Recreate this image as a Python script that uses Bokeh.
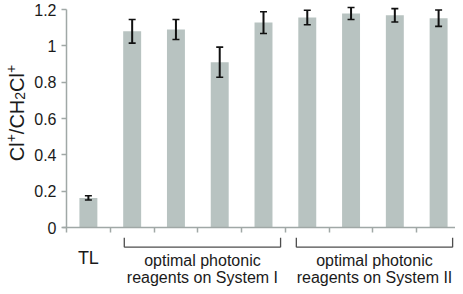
import math
from bokeh.plotting import figure
from bokeh.models import Range1d, FixedTicker, ColumnDataSource, Whisker, TeeHead, LinearAxis
from bokeh.core.properties import value
from bokeh.embed import file_html
from bokeh.resources import INLINE

# ---- data ----
category_labels = ["TL", "", "", "", "", "", "", "", ""]
values = [0.163, 1.080, 1.090, 0.910, 1.128, 1.156, 1.178, 1.168, 1.152]
errors = [0.012, 0.065, 0.055, 0.083, 0.060, 0.040, 0.033, 0.037, 0.045]
group_labels = ["optimal photonic\nreagents on System I", "optimal photonic\nreagents on System II"]
group_start = [1.32, 5.25]
group_end = [4.89, 8.82]
y_ticks = [0, 0.2, 0.4, 0.6, 0.8, 1.0, 1.2]
y_tick_labels = ["0", "0.2", "0.4", "0.6", "0.8", "1", "1.2"]
# y-axis title pieces: (text, shift)  shift: +1 superscript, -1 subscript
title_parts = [("Cl", 0), ("+", 1), ("/CH", 0), ("2", -1), ("Cl", 0), ("+", 1)]

FONT = "Liberation Sans"
BAR = "#b8c3c1"
AXIS = "#a0a8a6"
TXT = "#1a1a1a"

W, H = 455, 286
LEFT = 66          # frame x of the value axis
ZERO = 227         # screen y of value 0
PX = 218 / 1.2     # px per value unit
n = len(values)
XPX = 394 / n      # px per category

xs = [i + 0.5 for i in range(n)]
src = ColumnDataSource(dict(
    x=xs, top=values,
    lower=[v - e for v, e in zip(values, errors)],
    upper=[v + e for v, e in zip(values, errors)],
))

p = figure(width=W, height=H, output_backend="svg", toolbar_location=None,
           x_range=Range1d(-LEFT / XPX, (W - LEFT) / XPX),
           y_range=Range1d(-(H - ZERO) / PX, ZERO / PX),
           min_border=0, x_axis_location=None, y_axis_location=None)
p.outline_line_color = None
p.grid.grid_line_color = None
p.background_fill_color = "white"
p.border_fill_color = "white"

p.vbar(x="x", top="top", width=0.41, bottom=0, source=src, fill_color=BAR, line_color=None)

w = Whisker(base="x", lower="lower", upper="upper", source=src, line_color="#111111", line_width=2,
            upper_head=TeeHead(size=7, line_color="#111111", line_width=1.6),
            lower_head=TeeHead(size=7, line_color="#111111", line_width=1.6))
w.level = "overlay"
p.add_layout(w)

# value axis at x = 0
yax = LinearAxis(fixed_location=0, bounds=(0, 1.2), ticker=FixedTicker(ticks=y_ticks))
yax.major_label_overrides = {t: l for t, l in zip(y_ticks, y_tick_labels)}
yax.axis_line_color = AXIS
yax.axis_line_width = 1.5
yax.major_tick_line_color = AXIS
yax.major_tick_line_width = 1.5
yax.major_tick_out = 5
yax.major_tick_in = 0
yax.minor_tick_line_color = None
yax.major_label_text_font = FONT
yax.major_label_text_font_size = "16px"
yax.major_label_text_color = TXT
yax.major_label_standoff = 5
p.add_layout(yax, "left")

# category axis at y = 0
xax = LinearAxis(fixed_location=0, bounds=(-0.08, n),
                 ticker=FixedTicker(ticks=[xs[0]], minor_ticks=list(range(n + 1))))
xax.major_label_overrides = {xs[0]: category_labels[0]}
xax.major_label_text_font = FONT
xax.major_label_text_font_size = "18px"
xax.major_label_text_color = TXT
xax.major_label_standoff = 15
xax.axis_line_color = AXIS
xax.axis_line_width = 1.5
xax.major_tick_line_color = None
xax.major_tick_out = 0
xax.major_tick_in = 0
xax.minor_tick_line_color = AXIS
xax.minor_tick_line_width = 1.5
xax.minor_tick_out = 5
xax.minor_tick_in = 0
p.add_layout(xax, "below")

# group brackets
y_top = -10.3 / PX
y_bot = -19.7 / PX
p.segment(x0=group_start, y0=[y_bot] * 2, x1=group_end, y1=[y_bot] * 2, line_color="#4d4d4d", line_width=1.3)
p.segment(x0=group_start + group_end, y0=[y_top] * 4, x1=group_start + group_end, y1=[y_bot] * 4,
          line_color="#4d4d4d", line_width=1.3)

# group labels
p.text(x=[(a + b) / 2 for a, b in zip(group_start, group_end)], y=[-41.5 / PX] * 2, text=group_labels,
       text_font=value(FONT), text_font_size="16px", text_align="center", text_baseline="middle",
       text_color=TXT, text_line_height=1.02)

# rotated value-axis title built from pieces (super/subscripts)
BIG, SMALL = 20, 14
adv = {"C": 0.722, "l": 0.222, "+": 0.584, "/": 0.278, "H": 0.722, "2": 0.556}
widths = [sum(adv[c] for c in t) * (SMALL if s else BIG) for t, s in title_parts]
total = sum(widths)
tx = (16.5 - LEFT) / XPX
ty = 0.63
cum = 0.0
offs_y, offs_x, texts, sizes = [], [], [], []
for (t, s), wd in zip(title_parts, widths):
    texts.append(t)
    offs_y.append(total / 2 - cum)
    offs_x.append(-6 if s == 1 else (3 if s == -1 else 0))
    sizes.append(f"{SMALL if s else BIG}px")
    cum += wd
p.text(x=[tx] * len(texts), y=[ty] * len(texts), text=texts, x_offset=offs_x, y_offset=offs_y,
       angle=math.pi / 2, text_font=value(FONT), text_font_size=sizes, text_align="left",
       text_baseline="alphabetic", text_color=TXT)

open("out.html", "w").write(file_html(p, INLINE))
